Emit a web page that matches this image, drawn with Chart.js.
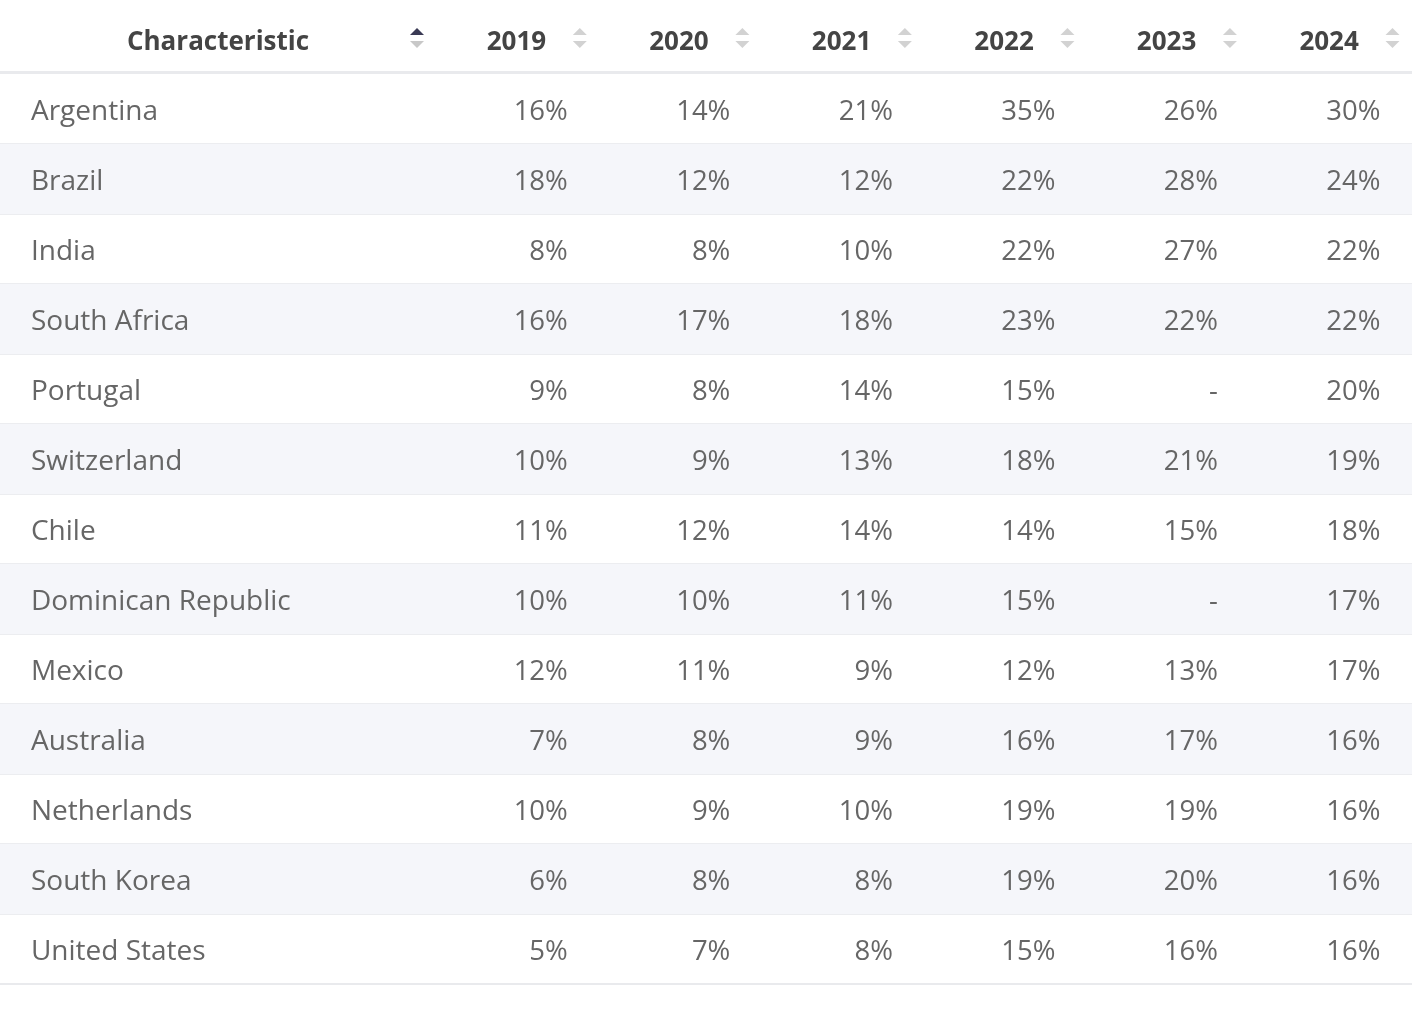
<!DOCTYPE html>
<html>
<head>
<meta charset="utf-8">
<script src="https://cdn.jsdelivr.net/npm/chart.js@4.4.1/dist/chart.umd.min.js"></script>
<style>
  body { margin: 0; background: #fff; }
  canvas { display: block; }
</style>
</head>
<body>
<canvas id="table" width="1428" height="1010"></canvas>
<script>
const countries = ['Argentina', 'Brazil', 'India', 'South Africa', 'Portugal', 'Switzerland', 'Chile',
  'Dominican Republic', 'Mexico', 'Australia', 'Netherlands', 'South Korea', 'United States'];
const years = ['2019', '2020', '2021', '2022', '2023', '2024'];
const share2019 = [16, 18, 8, 16, 9, 10, 11, 10, 12, 7, 10, 6, 5];
const share2020 = [14, 12, 8, 17, 8, 9, 12, 10, 11, 8, 9, 8, 7];
const share2021 = [21, 12, 10, 18, 14, 13, 14, 11, 9, 9, 10, 8, 8];
const share2022 = [35, 22, 22, 23, 15, 18, 14, 15, 12, 16, 19, 19, 15];
const share2023 = [26, 28, 27, 22, null, 21, 15, null, 13, 17, 19, 20, 16];
const share2024 = [30, 24, 22, 22, 20, 19, 18, 17, 17, 16, 16, 16, 16];
const headerLabel = 'Characteristic';

const columns = [share2019, share2020, share2021, share2022, share2023, share2024];

// x axis is in "year column" units: each year column is 1 wide, the name column sits left of 0
const X_MIN = -2.6875, X_MAX = 6;

const FONT = '"Open Sans", "Noto Sans", sans-serif';

const tablePlugin = {
  id: 'tableText',
  beforeDatasetsDraw(chart) {
    const { ctx, chartArea, scales: { y } } = chart;
    const half = (y.getPixelForValue(1) - y.getPixelForValue(0)) / 2;
    ctx.save();
    // row separators
    ctx.strokeStyle = '#e9eaed';
    ctx.lineWidth = 2;
    countries.forEach((c, i) => {
      const yy = y.getPixelForValue(i) + half;
      ctx.beginPath();
      ctx.moveTo(chartArea.left, yy);
      ctx.lineTo(chartArea.right, yy);
      ctx.stroke();
    });
    ctx.restore();
  },
  afterDatasetsDraw(chart) {
    const { ctx, chartArea, scales: { x, y } } = chart;
    ctx.save();

    // header line
    ctx.strokeStyle = '#e9eaed';
    ctx.lineWidth = 3;
    ctx.beginPath();
    ctx.moveTo(chartArea.left, chartArea.top - 1.5);
    ctx.lineTo(chartArea.right, chartArea.top - 1.5);
    ctx.stroke();

    const headY = 43;
    ctx.textBaseline = 'middle';
    ctx.font = 'bold 26px ' + FONT;
    ctx.fillStyle = '#444444';
    ctx.textAlign = 'center';
    ctx.fillText(headerLabel, x.getPixelForValue(-1.346), headY);
    years.forEach((yr, i) => {
      ctx.fillText(yr, x.getPixelForValue(i + 0.49), headY);
    });

    // sort icons
    const icon = (cx, upColor, downColor) => {
      ctx.fillStyle = upColor;
      ctx.beginPath();
      ctx.moveTo(cx - 7, 35);
      ctx.lineTo(cx + 7, 35);
      ctx.lineTo(cx, 28);
      ctx.closePath();
      ctx.fill();
      ctx.fillStyle = downColor;
      ctx.beginPath();
      ctx.moveTo(cx - 7, 41);
      ctx.lineTo(cx + 7, 41);
      ctx.lineTo(cx, 48);
      ctx.closePath();
      ctx.fill();
    };
    icon(x.getPixelForValue(-0.122), '#3a3a55', '#c8c8c8');
    years.forEach((yr, i) => icon(x.getPixelForValue(i + 0.88), '#d2d2d2', '#d2d2d2'));

    // body cells
    ctx.fillStyle = '#666666';
    countries.forEach((name, r) => {
      const yy = y.getPixelForValue(r) + 3;
      ctx.font = '28px ' + FONT;
      ctx.textAlign = 'left';
      ctx.fillText(name, x.getPixelForValue(-2.497), yy);
      ctx.font = '27.5px ' + FONT;
      ctx.textAlign = 'right';
      columns.forEach((col, c) => {
        const v = col[r];
        const txt = v === null ? '-' : v + '%';
        ctx.fillText(txt, x.getPixelForValue(c + 0.806), yy);
      });
    });
    ctx.restore();
  }
};

new Chart(document.getElementById('table'), {
  type: 'bar',
  data: {
    labels: countries,
    datasets: [{
      label: 'stripe',
      data: countries.map((c, i) => (i % 2 === 1 ? [X_MIN, X_MAX] : null)),
      backgroundColor: '#f5f6fa',
      borderWidth: 0,
      barPercentage: 1,
      categoryPercentage: 1
    }]
  },
  options: {
    indexAxis: 'y',
    responsive: false,
    animation: false,
    layout: { padding: { top: 74, bottom: 26, left: 0, right: 16 } },
    plugins: { legend: { display: false }, tooltip: { enabled: false } },
    scales: {
      x: { type: 'linear', min: X_MIN, max: X_MAX, display: false },
      y: { type: 'category', display: false }
    }
  },
  plugins: [tablePlugin]
});
</script>
</body>
</html>
